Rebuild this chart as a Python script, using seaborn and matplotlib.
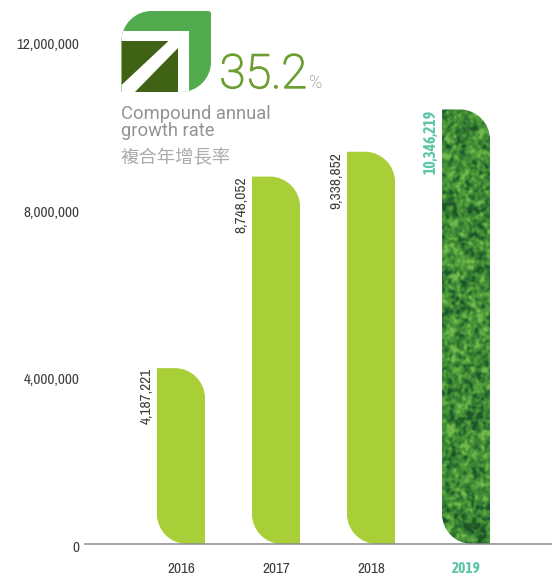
import numpy as np
import pandas as pd
import matplotlib
matplotlib.use("Agg")
import matplotlib.pyplot as plt
import matplotlib.patheffects as pe
from matplotlib.patches import PathPatch, Polygon
from matplotlib.path import Path
from matplotlib.transforms import ScaledTranslation
import seaborn as sns

years = ["2016", "2017", "2018", "2019"]
revenue = [4187221, 8748052, 9338852, 10346219]
value_labels = ["4,187,221", "8,748,052", "9,338,852", "10,346,219"]
y_ticks = [0, 4000000, 8000000, 12000000]
y_tick_labels = ["0", "4,000,000", "8,000,000", "12,000,000"]

NARROW = ["Archivo Narrow", "Liberation Sans", "DejaVu Sans"]
NARROW_BOLD = ["Asap Condensed", "Liberation Sans", "DejaVu Sans"]
LIME = "#A8CF38"
TEAL = "#5CC5A8"
INK = "#3E3E3E"

sns.set_theme(style="white")
plt.rcParams["font.family"] = NARROW

fig = plt.figure(figsize=(5.52, 5.76), dpi=100, facecolor="white")
ax = fig.add_axes([85 / 552, 32 / 576, 467 / 552, 544 / 576])

df = pd.DataFrame({"year": years, "revenue": revenue})
sns.barplot(data=df, x="year", y="revenue", color=LIME, saturation=1, width=0.505, ax=ax)
ax.set_xlim(-1.01, 3.905)
ax.set_ylim(0, 544 / 42 * 1e6)
ax.set_xlabel("")
ax.set_ylabel("")
for side in ("top", "left", "right"):
    ax.spines[side].set_visible(False)
ax.spines["bottom"].set_color("#8A8A8A")
ax.spines["bottom"].set_linewidth(1.1)

ax.set_yticks(y_ticks, y_tick_labels)
ax.tick_params(axis="y", length=0, pad=4, labelsize=11, labelcolor=INK)
ax.tick_params(axis="x", length=0, pad=13.2, labelsize=11, labelcolor=INK)
nudge = ScaledTranslation(0, -3 / 100, fig.dpi_scale_trans)
for lab in ax.get_yticklabels():
    lab.set_transform(lab.get_transform() + nudge)
last = ax.get_xticklabels()[-1]
last.set_color(TEAL)
last.set_fontweight("bold")
last.set_family(NARROW_BOLD)


def leaf_path(x0, x1, y0, y1, rx, ry):
    """Bar outline with the top-right and bottom-left corners rounded."""
    k = 0.45
    verts = [
        (x0, y1), (x1 - rx, y1),
        (x1 - rx * k, y1), (x1, y1 - ry * k), (x1, y1 - ry),
        (x1, y0),
        (x0 + rx, y0),
        (x0 + rx * k, y0), (x0, y0 + ry * k), (x0, y0 + ry),
        (x0, y1),
    ]
    codes = [Path.MOVETO, Path.LINETO, Path.CURVE4, Path.CURVE4, Path.CURVE4,
             Path.LINETO, Path.LINETO, Path.CURVE4, Path.CURVE4, Path.CURVE4,
             Path.CLOSEPOLY]
    return Path(verts, codes)


def foliage(rows, cols):
    """Mottled leaf texture: blurred noise at two scales."""
    rng = np.random.default_rng(2019)
    field = rng.normal(size=(rows, cols))
    spectrum = np.fft.fft2(field)
    fy = np.fft.fftfreq(rows)[:, None]
    fx = np.fft.fftfreq(cols)[None, :]
    fine = np.fft.ifft2(spectrum * np.exp(-(fx**2 + fy**2) * 30)).real
    broad = np.fft.ifft2(spectrum * np.exp(-(fx**2 + fy**2) * 200)).real
    tex = fine / fine.std() + 0.3 * broad / broad.std()
    return np.clip((tex + 2.4) / 4.8, 0, 1)


grass = matplotlib.colors.LinearSegmentedColormap.from_list(
    "grass", ["#1E5628", "#2F7431", "#418B36", "#52A03C", "#74B84E"])

rx = 30 / 95
ry = 30 / 42 * 1e6
for i, bar in enumerate(list(ax.patches)):
    x0, x1 = bar.get_x(), bar.get_x() + bar.get_width()
    top = bar.get_height()
    outline = leaf_path(x0, x1, 0, top, rx, ry)
    bar.set_visible(False)
    if years[i] == "2019":
        shape = PathPatch(outline, facecolor="none", edgecolor="none", transform=ax.transData)
        ax.add_patch(shape)
        img = ax.imshow(foliage(434, 48), extent=(x0, x1, 0, top), cmap=grass,
                        aspect="auto", interpolation="bilinear", zorder=2)
        img.set_clip_path(shape)
        ax.set_xlim(-1.01, 3.905)
        ax.set_ylim(0, 544 / 42 * 1e6)
    else:
        ax.add_patch(PathPatch(outline, facecolor=LIME, edgecolor="none", zorder=2))
    highlight = years[i] == "2019"
    ax.annotate(value_labels[i], xy=(x0, top), xytext=(-2.6, 0), textcoords="offset points",
                rotation=90, ha="right", va="top",
                fontsize=11.2,
                fontweight="bold" if highlight else "normal",
                family=NARROW_BOLD if highlight else NARROW,
                color=TEAL if highlight else INK)

# Growth badge and caption, laid out in pixel units on a full-figure layer
layer = fig.add_axes([0, 0, 1, 1], facecolor="none")
layer.set_xlim(0, 552)
layer.set_ylim(576, 0)
layer.axis("off")

L, R, T, B = 121.5, 211, 11, 92
k = 0.45
badge_verts = [
    (L, B), (L, T + 30), (L, T + 30 * k), (L + 30 * k, T), (L + 30, T),
    (R - 3, T), (R - 1, T), (R, T + 1), (R, T + 3),
    (R, B - 30), (R, B - 30 * k), (R - 30 * k, B), (R - 30, B),
    (L, B), (L, B),
]
badge_codes = [Path.MOVETO, Path.LINETO, Path.CURVE4, Path.CURVE4, Path.CURVE4,
               Path.LINETO, Path.CURVE4, Path.CURVE4, Path.CURVE4,
               Path.LINETO, Path.CURVE4, Path.CURVE4, Path.CURVE4,
               Path.LINETO, Path.CLOSEPOLY]
badge = PathPatch(Path(badge_verts, badge_codes), facecolor="#52AB4E", edgecolor="none")
layer.add_patch(badge)
white_part = Polygon([(L, 31), (189, 31), (189, 92), (L, 92)], facecolor="white", edgecolor="none")
layer.add_patch(white_part)
white_part.set_clip_path(badge)
upper = Polygon([(L, 41), (168.5, 41), (L, 85)], facecolor="#3F6214", edgecolor="none")
lower = Polygon([(178, 48), (178, 92), (135, 92)], facecolor="#3F6214", edgecolor="none")
layer.add_patch(upper)
layer.add_patch(lower)
upper.set_clip_path(badge)
lower.set_clip_path(badge)

headline = layer.text(219.5, 88, "35.2", fontsize=34, family="Roboto", fontweight="light",
                      color="#6B9E2F", ha="left", va="baseline")
headline.set_path_effects([pe.withStroke(linewidth=1.0, foreground="#6B9E2F")])
layer.text(308.5, 88, "%", fontsize=13, family="Roboto", fontweight="light",
           color="#777777", ha="left", va="baseline")
for caption, base in (("Compound annual", 119), ("growth rate", 136)):
    layer.text(121, base, caption, fontsize=13.2, family="Roboto", fontweight="normal",
               color="#939393", ha="left", va="baseline")
layer.text(121, 163, "複合年增長率", fontsize=13.2, family=["Noto Sans CJK TC", "DejaVu Sans"],
           fontweight="light", color="#ABABAB", ha="left", va="baseline")

fig.savefig("out.png", dpi=100, facecolor="white")
